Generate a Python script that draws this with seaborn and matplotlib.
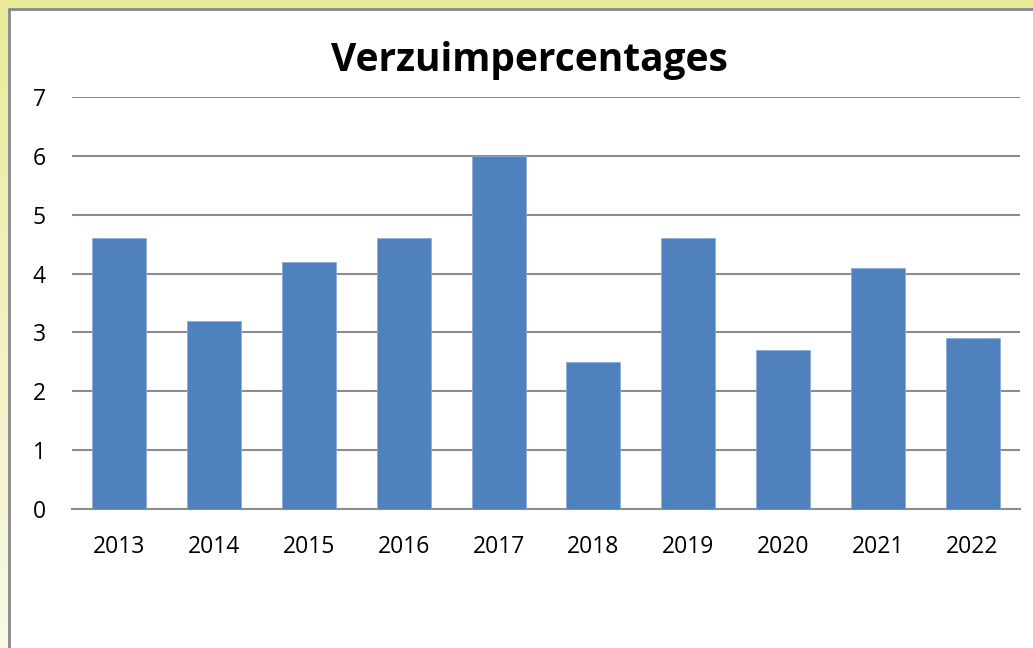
import numpy as np
import matplotlib.pyplot as plt
import seaborn as sns

# data
years = ['2013', '2014', '2015', '2016', '2017', '2018', '2019', '2020', '2021', '2022']
verzuim = [4.6, 3.2, 4.2, 4.6, 6.0, 2.5, 4.6, 2.7, 4.1, 2.9]

sns.set_style('white')
plt.rcParams['font.family'] = ['Open Sans', 'DejaVu Sans']
plt.rcParams['text.color'] = 'black'
plt.rcParams['xtick.color'] = 'black'
plt.rcParams['ytick.color'] = 'black'

W, H = 1033, 648
fig = plt.figure(figsize=(W / 100, H / 100), dpi=100, facecolor='white')

# yellow frame at top and left (gradient on the left strip)
bg = fig.add_axes([0, 0, 1, 1], zorder=-10)
bg.set_xlim(0, W)
bg.set_ylim(H, 0)
bg.axis('off')
grad = np.linspace(0, 1, 256).reshape(-1, 1)
top_col = np.array([0.918, 0.918, 0.608])
bot_col = np.array([0.975, 0.975, 0.90])
img = top_col + (bot_col - top_col) * grad[..., None]
bg.imshow(img, extent=[0, 8, H, 0], aspect='auto')
bg.fill_between([0, W], 0, 8, color='#EAEA9B', lw=0)
bg.plot([8.5, W], [8.5, 8.5], color='#868686', lw=2)
bg.plot([8.5, 8.5], [8.5, H], color='#868686', lw=2)

# plot area
x0, x1, y0, y1 = 72, 1020, 97, 509
ax = fig.add_axes([x0 / W, 1 - y1 / H, (x1 - x0) / W, (y1 - y0) / H])
sns.barplot(x=years, y=verzuim, color='#4F81BD', saturation=1, width=0.57,
            edgecolor='#8EADD6', linewidth=0.6, ax=ax, zorder=3)

ax.set_ylim(0, 7)
ax.set_xlim(-0.5, len(years) - 0.5)
ax.set_yticks(range(0, 8))
ax.yaxis.grid(True, color='#8C8C8C', linewidth=1.5, zorder=0)
ax.set_axisbelow(True)
for s in ['top', 'right', 'left']:
    ax.spines[s].set_visible(False)
ax.spines['bottom'].set_color('#8C8C8C')
ax.spines['bottom'].set_linewidth(1.5)
ax.tick_params(axis='y', length=0, pad=19, labelsize=16.5, labelcolor='black')
ax.tick_params(axis='x', length=0, pad=19, labelsize=16.5, labelcolor='black')
ax.set_xlabel('')
ax.set_ylabel('')

fig.text(529 / W, 1 - 60 / H, 'Verzuimpercentages', ha='center', va='center',
         fontsize=28, fontweight='bold', color='black')

fig.savefig('out.png', dpi=100, facecolor='white')
